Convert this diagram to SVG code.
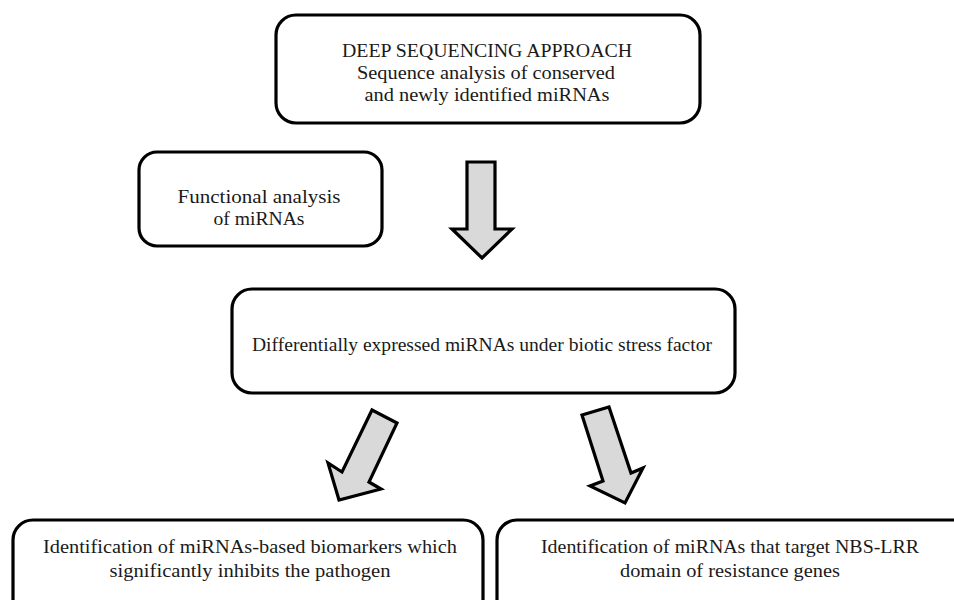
<svg xmlns="http://www.w3.org/2000/svg" width="954" height="600" viewBox="0 0 954 600">
<style>
.box{fill:#fff;stroke:#000;stroke-width:3.2}
.arr{fill:#d9d9d9;stroke:#000;stroke-width:3.2;stroke-linejoin:miter}
text{font-family:"Liberation Serif","Times New Roman",serif;font-size:19.5px;fill:#1a1a1a;text-anchor:middle}
</style>
<rect width="954" height="600" fill="#fff"/>
<g id="deep">
<rect class="box" x="276" y="15" width="424" height="108" rx="20"/>
<text x="487" y="57" textLength="290" lengthAdjust="spacingAndGlyphs">DEEP SEQUENCING APPROACH</text>
<text x="486" y="79" textLength="258" lengthAdjust="spacingAndGlyphs">Sequence analysis of conserved</text>
<text x="487" y="101" textLength="245" lengthAdjust="spacingAndGlyphs">and newly identified miRNAs</text>
</g>
<g id="functional">
<rect class="box" x="139" y="152" width="243" height="94" rx="18"/>
<text x="259" y="203" textLength="163" lengthAdjust="spacingAndGlyphs">Functional analysis</text>
<text x="259" y="225" textLength="91" lengthAdjust="spacingAndGlyphs">of miRNAs</text>
</g>
<g id="diff">
<rect class="box" x="232" y="289" width="503" height="104" rx="20"/>
<text x="482" y="351" textLength="460" lengthAdjust="spacingAndGlyphs">Differentially expressed miRNAs under biotic stress factor</text>
</g>
<g id="biomarkers">
<rect class="box" x="13" y="520" width="470" height="120" rx="20"/>
<text x="250" y="553" textLength="414" lengthAdjust="spacingAndGlyphs">Identification of miRNAs-based biomarkers which</text>
<text x="250" y="577" textLength="281" lengthAdjust="spacingAndGlyphs">significantly inhibits the pathogen</text>
</g>
<g id="nbs">
<rect class="box" x="497" y="520" width="490" height="120" rx="20"/>
<text x="730" y="553" textLength="378" lengthAdjust="spacingAndGlyphs">Identification of miRNAs that target NBS-LRR</text>
<text x="730" y="577" textLength="220" lengthAdjust="spacingAndGlyphs">domain of resistance genes</text>
</g>
<g id="connectors">
<polygon class="arr" points="467,162 495,162 495,229 512,229 482,258 452,229 467,229"/>
<polygon class="arr" points="372,410 397,423 369,482 381,489 339,500 328,463 342,472"/>
<polygon class="arr" points="582,415 609,407 631,473 643,468 625,503 590,486 603,481"/>
</g>
</svg>
